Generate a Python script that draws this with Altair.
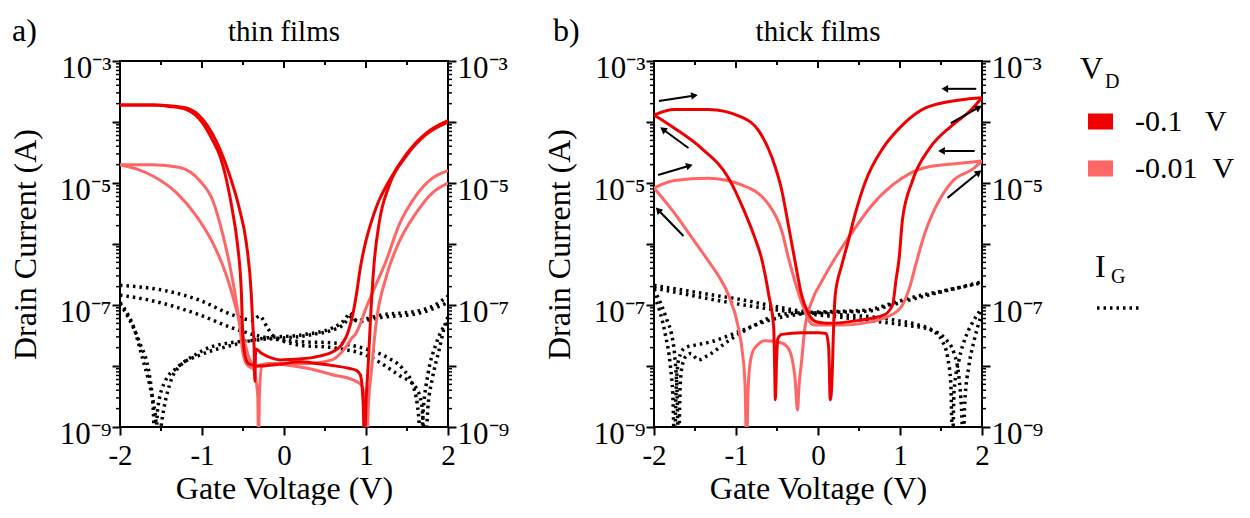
import math
import altair as alt
import pandas as pd

# ===================== values =====================
# a) thin films -- drain current, V_D = -0.1 V (two sweep branches)
THIN_DARK1_V = [-2.0, -1.6, -1.4, -1.19, -0.99, -0.87, -0.78, -0.70, -0.63, -0.57, -0.52, -0.50, -0.46, -0.42,
                -0.30, -0.05, 0.19, 0.40, 0.59, 0.80, 0.88, 0.93, 0.965, 0.98, 1.00, 1.03, 1.06, 1.10, 1.16,
                1.28, 1.49, 1.73, 2.0]
THIN_DARK1_I = [1.9e-4, 1.9e-4, 1.8e-4, 1.6e-4, 9.5e-5, 5.0e-5, 2.75e-5, 1.1e-5, 3.6e-6, 1.05e-6, 1.6e-7, 2.7e-8,
                1.26e-8, 1.07e-8, 1.0e-8, 1.07e-8, 1.17e-8, 1.1e-8, 1.02e-8, 9.1e-9, 8.5e-9, 7.2e-9, 2.5e-9,
                5.0e-10, 2.5e-9, 1.26e-8, 7.9e-8, 5.0e-7, 2.2e-6, 8.9e-6, 2.75e-5, 6.2e-5, 1.0e-4]
THIN_DARK2_V = [-2.0, -1.6, -1.4, -1.19, -0.99, -0.87, -0.78, -0.66, -0.54, -0.46, -0.40, -0.38, -0.365, -0.355,
                -0.345, -0.27, -0.15, -0.05, 0.19, 0.43, 0.59, 0.71, 0.78, 0.84, 0.88, 0.93, 0.99, 1.06, 1.14,
                1.28, 1.49, 1.73, 2.0]
THIN_DARK2_I = [1.9e-4, 1.9e-4, 1.85e-4, 1.7e-4, 1.1e-4, 6.3e-5, 3.55e-5, 1.3e-5, 3.6e-6, 1.05e-6, 1.6e-7, 4.6e-8,
                2.1e-8, 5.6e-9, 1.9e-8, 1.6e-8, 1.35e-8, 1.26e-8, 1.3e-8, 1.45e-8, 1.7e-8, 2.3e-8, 3.55e-8,
                7.1e-8, 1.4e-7, 4.0e-7, 1.0e-6, 2.2e-6, 4.5e-6, 1.07e-5, 2.95e-5, 6.5e-5, 1.05e-4]
# a) thin films -- drain current, V_D = -0.01 V
THIN_LIGHT1_V = [-2.0, -1.8, -1.6, -1.31, -1.07, -0.87, -0.70, -0.58, -0.50, -0.43, -0.36, -0.32, -0.31, -0.30,
                 -0.27, -0.20, 0.0, 0.30, 0.59, 0.88, 0.95, 0.99, 1.01, 1.03, 1.06, 1.12, 1.25, 1.40, 1.61,
                 1.81, 2.0]
THIN_LIGHT1_I = [2.0e-5, 1.7e-5, 1.3e-5, 6.9e-6, 2.9e-6, 1.05e-6, 3.0e-7, 8.3e-8, 3.1e-8, 1.4e-8, 7.9e-9, 3.2e-9,
                 5.0e-10, 3.2e-9, 1.0e-8, 1.1e-8, 1.05e-8, 9.1e-9, 7.2e-9, 5.6e-9, 4.7e-9, 2.5e-9, 5.0e-10,
                 2.5e-9, 6.9e-9, 4.6e-8, 3.0e-7, 1.05e-6, 3.2e-6, 6.9e-6, 1.0e-5]
THIN_LIGHT2_V = [-2.0, -1.6, -1.27, -1.03, -0.87, -0.75, -0.66, -0.60, -0.54, -0.50, -0.45, -0.38, -0.28, -0.10,
                 0.30, 0.59, 0.70, 0.76, 0.83, 0.87, 0.91, 1.00, 1.08, 1.25, 1.40, 1.61, 1.81, 2.0]
THIN_LIGHT2_I = [2.0e-5, 2.0e-5, 1.8e-5, 1.1e-5, 5.2e-6, 1.5e-6, 4.4e-7, 1.6e-7, 4.6e-8, 1.6e-8, 1.05e-8, 9.3e-9,
                 1.05e-8, 1.1e-8, 1.1e-8, 1.26e-8, 1.66e-8, 2.1e-8, 2.9e-8, 3.3e-8, 4.2e-8, 8.9e-8, 1.6e-7,
                 5.5e-7, 2.0e-6, 6.2e-6, 1.2e-5, 1.6e-5]
# a) thin films -- gate current |I_G| (four sweeps)
THIN_GATE1_V = [-2.0, -1.43, -1.03, -0.63, -0.38, -0.30, -0.20, -0.14, 0.19, 0.59, 1.00, 1.40, 1.61, 1.68, 1.72,
                1.76, 1.81, 1.89, 1.98, 2.0]
THIN_GATE1_I = [2.1e-7, 1.7e-7, 1.2e-7, 6.9e-8, 5.6e-8, 6.6e-8, 4.2e-8, 3.2e-8, 2.2e-8, 2.0e-8, 1.5e-8, 7.1e-9,
                4.4e-9, 2.3e-9, 5.0e-10, 2.5e-9, 6.3e-9, 1.8e-8, 5.5e-8, 6.3e-8]
THIN_GATE2_V = [-2.0, -1.64, -1.03, -0.63, -0.21, 0.20, 0.59, 1.00, 1.25, 1.45, 1.58, 1.64, 1.67, 1.70, 1.76, 1.85,
                1.93, 2.0]
THIN_GATE2_I = [1.45e-7, 1.2e-7, 6.9e-8, 4.2e-8, 2.9e-8, 2.5e-8, 2.4e-8, 1.9e-8, 1.4e-8, 8.9e-9, 4.5e-9, 1.6e-9,
                5.0e-10, 2.0e-9, 7.9e-9, 2.2e-8, 4.0e-8, 5.0e-8]
THIN_GATE3_V = [-2.0, -1.95, -1.84, -1.72, -1.64, -1.57, -1.53, -1.49, -1.39, -1.27, -1.03, -0.63, -0.21, 0.19,
                0.59, 0.76, 0.80, 0.88, 1.20, 1.61, 1.81, 2.0]
THIN_GATE3_I = [1.1e-7, 8.9e-8, 4.6e-8, 1.26e-8, 5.0e-9, 1.6e-9, 5.0e-10, 1.26e-9, 5.2e-9, 1.0e-8, 1.5e-8, 2.2e-8,
                2.9e-8, 3.2e-8, 4.2e-8, 6.2e-8, 7.4e-8, 5.6e-8, 6.9e-8, 7.9e-8, 9.5e-8, 1.4e-7]
THIN_GATE4_V = [-2.0, -1.90, -1.76, -1.64, -1.60, -1.57, -1.54, -1.45, -1.30, -1.11, -0.87, -0.30, 0.30, 0.70,
                0.82, 0.90, 1.20, 1.60, 2.0]
THIN_GATE4_I = [1.05e-7, 6.3e-8, 2.4e-8, 6.9e-9, 2.5e-9, 5.0e-10, 2.0e-9, 5.6e-9, 9.5e-9, 1.45e-8, 2.1e-8, 2.7e-8,
                3.2e-8, 4.5e-8, 6.3e-8, 5.4e-8, 6.3e-8, 7.1e-8, 1.1e-7]

# b) thick films -- drain current, V_D = -0.1 V
THICK_DARK1_V = [-2.0, -1.75, -1.34, -0.93, -0.72, -0.56, -0.44, -0.36, -0.28, -0.20, -0.13, -0.07, 0.0, 0.13,
                 0.50, 0.80, 0.91, 0.95, 0.99, 1.03, 1.15, 1.36, 1.64, 1.85, 2.0]
THICK_DARK1_I = [1.3e-4, 1.6e-4, 1.6e-4, 1.2e-4, 7.1e-5, 2.6e-5, 7.4e-6, 2.0e-6, 5.2e-7, 1.45e-7, 7.9e-8, 5.8e-8,
                 5.2e-8, 5.0e-8, 5.6e-8, 6.8e-8, 1.0e-7, 2.5e-7, 5.9e-7, 2.5e-6, 1.07e-5, 3.7e-5, 8.9e-5,
                 1.5e-4, 2.5e-4]
THICK_DARK2_V = [-2.0, -1.75, -1.42, -1.09, -0.90, -0.77, -0.69, -0.60, -0.54, -0.53, -0.52, -0.505, -0.49, -0.44,
                 -0.20, 0.0, 0.10, 0.13, 0.15, 0.17, 0.19, 0.21, 0.29, 0.36, 0.45, 0.58, 0.79, 1.03, 1.31, 1.73,
                 2.0]
THICK_DARK2_I = [1.3e-4, 7.9e-5, 3.7e-5, 1.2e-5, 3.5e-6, 1.26e-6, 5.9e-7, 1.45e-7, 4.2e-8, 1.2e-8, 2.8e-9, 1.26e-8,
                 2.8e-8, 3.3e-8, 3.5e-8, 3.5e-8, 3.4e-8, 2.0e-8, 2.8e-9, 5.6e-9, 4.2e-8, 1.45e-7, 4.5e-7, 1.0e-6,
                 3.0e-6, 1.07e-5, 3.7e-5, 8.9e-5, 1.7e-4, 2.3e-4, 2.5e-4]
# b) thick films -- drain current, V_D = -0.01 V
THICK_LIGHT1_V = [-2.0, -1.75, -1.34, -0.93, -0.60, -0.44, -0.36, -0.23, -0.16, -0.11, -0.04, 0.30, 0.54, 0.87,
                  1.03, 1.12, 1.19, 1.31, 1.40, 1.64, 1.89, 2.0]
THICK_LIGHT1_I = [8.3e-6, 1.1e-5, 1.2e-5, 9.3e-6, 4.4e-6, 1.6e-6, 5.9e-7, 1.45e-7, 7.9e-8, 5.5e-8, 4.7e-8, 4.7e-8,
                  5.0e-8, 6.6e-8, 1.0e-7, 2.0e-7, 4.5e-7, 1.6e-6, 3.2e-6, 1.07e-5, 1.7e-5, 2.3e-5]
THICK_LIGHT2_V = [-2.0, -1.75, -1.56, -1.35, -1.20, -1.09, -0.97, -0.92, -0.89, -0.87, -0.855, -0.84, -0.80, -0.74,
                  -0.65, -0.45, -0.38, -0.32, -0.28, -0.25, -0.23, -0.20, -0.16, -0.07, 0.05, 0.21, 0.45, 0.63,
                  0.91, 1.31, 1.73, 2.0]
THICK_LIGHT2_I = [8.3e-6, 3.2e-6, 1.4e-6, 5.6e-7, 2.8e-7, 1.45e-7, 4.2e-8, 1.6e-8, 5.0e-9, 4.0e-10, 3.2e-9, 7.9e-9,
                  1.66e-8, 2.2e-8, 2.6e-8, 2.4e-8, 2.1e-8, 1.4e-8, 6.3e-9, 1.9e-9, 5.0e-9, 1.2e-8, 4.2e-8, 1.2e-7,
                  2.5e-7, 5.9e-7, 1.8e-6, 3.9e-6, 9.3e-6, 1.8e-5, 2.1e-5, 2.3e-5]
# b) thick films -- gate current |I_G|
THICK_GATE1_V = [-2.0, -1.70, -1.34, -0.90, -0.53, -0.11, 0.29, 0.70, 0.95, 1.20, 1.40, 1.52, 1.58, 1.62, 1.64,
                 1.66, 1.72, 1.81, 1.90, 2.0]
THICK_GATE1_I = [2.1e-7, 1.8e-7, 1.5e-7, 1.2e-7, 9.5e-8, 7.6e-8, 6.9e-8, 6.3e-8, 5.6e-8, 4.8e-8, 3.8e-8, 2.5e-8,
                 1.4e-8, 5.0e-9, 5.0e-10, 4.0e-9, 1.26e-8, 3.2e-8, 5.6e-8, 8.9e-8]
THICK_GATE2_V = [-2.0, -1.50, -1.00, -0.50, 0.0, 0.40, 0.80, 1.10, 1.35, 1.55, 1.66, 1.72, 1.75, 1.77, 1.79, 1.84,
                 1.90, 1.96, 2.0]
THICK_GATE2_I = [1.9e-7, 1.4e-7, 1.05e-7, 8.3e-8, 6.9e-8, 6.0e-8, 5.2e-8, 4.6e-8, 4.0e-8, 2.8e-8, 1.6e-8, 6.3e-9,
                 2.0e-9, 5.0e-10, 2.5e-9, 1.0e-8, 2.5e-8, 5.0e-8, 7.6e-8]
THICK_GATE3_V = [-2.0, -1.91, -1.84, -1.79, -1.75, -1.72, -1.70, -1.68, -1.65, -1.60, -1.55, -1.46, -1.34, -1.09,
                 -0.77, -0.48, -0.07, 0.30, 0.60, 0.91, 1.12, 1.52, 2.0]
THICK_GATE3_I = [1.8e-7, 1.0e-7, 5.6e-8, 3.5e-8, 1.6e-8, 4.0e-9, 5.0e-10, 5.0e-9, 1.1e-8, 1.5e-8, 1.6e-8, 1.26e-8,
                 1.5e-8, 2.6e-8, 4.7e-8, 6.9e-8, 7.6e-8, 7.9e-8, 8.3e-8, 1.07e-7, 1.3e-7, 1.7e-7, 2.3e-7]
THICK_GATE4_V = [-2.0, -1.93, -1.86, -1.80, -1.77, -1.75, -1.73, -1.70, -1.62, -1.50, -1.30, -1.00, -0.60, -0.20,
                 0.20, 0.60, 0.90, 1.30, 1.70, 2.0]
THICK_GATE4_I = [1.4e-7, 7.9e-8, 3.2e-8, 1.0e-8, 3.2e-9, 5.0e-10, 4.0e-9, 1.26e-8, 2.0e-8, 2.2e-8, 2.5e-8, 3.5e-8,
                 5.6e-8, 7.1e-8, 7.6e-8, 7.9e-8, 1.0e-7, 1.4e-7, 1.9e-7, 2.4e-7]

# sweep-direction arrows in panel b (tail -> head, in data units)
ARROW_V0 = [-1.94, -1.58, -1.95, -1.64, 1.93, 1.62, 1.91, 1.58]
ARROW_I0 = [2.2e-4, 3.75e-5, 1.35e-5, 1.35e-6, 3.5e-4, 9.6e-5, 3.35e-5, 5.7e-6]
ARROW_V1 = [-1.52, -1.88, -1.58, -1.94, 1.56, 1.95, 1.52, 1.95]
ARROW_I1 = [2.7e-4, 7.4e-5, 1.9e-5, 3.5e-6, 3.5e-4, 1.7e-4, 3.35e-5, 1.46e-5]

# categories, ticks and labels
VD_NAMES = ["-0.1\u00a0\u00a0\u00a0V", "-0.01\u00a0\u00a0V"]
GATE_NAMES = ["gate"]
PANEL_TITLES = ["thin films", "thick films"]
PANEL_LETTERS = ["a)", "b)"]
LEGEND_TITLES = ["V", "I"]
LEGEND_SUBS = ["D", "G"]
Y_DECADE_EXP = [-9, -8, -7, -6, -5, -4, -3]
Y_DECADE_LABELS = ["10⁻⁹", "", "10⁻⁷", "", "10⁻⁵", "", "10⁻³"]
MINOR_MULT = [2, 3, 4, 5, 6, 7, 8, 9]
X_MAJOR = [-2, -1, 0, 1, 2]
X_MAJOR_LABELS = ["-2", "-1", "0", "1", "2"]
X_MINOR = [-1.5, -0.5, 0.5, 1.5]

# ===================== style / layout =====================
W, H = 328, 366
FONT = "Liberation Serif"
DARK, LIGHT = "#ee0000", "#ff6666"
XTICK_FS, YTICK_FS, AXTITLE_FS = 29, 31, 32

Y_DECADES = [10.0 ** e for e in Y_DECADE_EXP]
Y_MINORS = [m * 10.0 ** e for e in Y_DECADE_EXP[:-1] for m in MINOR_MULT]

y_expr = "".join(
    f"round(log(datum.value) / LN10) == {e} ? '{lab}' : " for e, lab in zip(Y_DECADE_EXP, Y_DECADE_LABELS)
) + "''"
x_expr = "".join(f"datum.value == {v} ? '{lab}' : " for v, lab in zip(X_MAJOR, X_MAJOR_LABELS)) + "''"

XS = alt.Scale(domain=[-2, 2], nice=False, zero=False)
YS = alt.Scale(type="log", domain=[1e-9, 1e-3], nice=False)

X_AXIS = alt.Axis(orient="bottom", values=X_MAJOR, labelExpr=x_expr, tickSize=8, tickWidth=2,
                  tickColor="black", domain=False, grid=False, labelFlush=False, labelFont=FONT,
                  labelFontSize=XTICK_FS, labelColor="black", labelPadding=6,
                  title="Gate Voltage (V)", titleFont=FONT, titleFontSize=AXTITLE_FS,
                  titleFontWeight="normal", titleColor="black", titlePadding=3)


def y_axis(orient, title):
    kw = dict(orient=orient, values=Y_DECADES, labelExpr=y_expr, tickSize=8, tickWidth=2, tickColor="black",
              domain=False, grid=False, labelFont=FONT, labelFontSize=YTICK_FS, labelColor="black",
              labelPadding=1, labelBaseline="middle", labelOffset=7)
    if title:
        kw.update(title=title, titleFont=FONT, titleFontSize=AXTITLE_FS, titleFontWeight="normal",
                  titleColor="black", titlePadding=17)
    else:
        kw.update(title=None)
    return alt.Axis(**kw)


COLOR_LEGEND = alt.Legend(title=LEGEND_TITLES[0], orient="none", legendX=960, legendY=-7,
                          titleFont=FONT, titleFontSize=32, titleFontWeight="normal", titleColor="black",
                          titlePadding=20, labelFont=FONT, labelFontSize=30, labelColor="black",
                          labelOffset=14, symbolType="stroke", symbolSize=625, symbolStrokeWidth=16,
                          symbolOffset=0, clipHeight=31, rowPadding=16)
DASH_LEGEND = alt.Legend(title=LEGEND_TITLES[1], orient="none", legendX=975, legendY=191,
                         titleFont=FONT, titleFontSize=32, titleFontWeight="normal", titleColor="black",
                         titlePadding=0, labelExpr="''", symbolType="stroke", symbolSize=1936,
                         symbolStrokeWidth=3.5, symbolStrokeColor="black")


def curve_frame(curves, key):
    rows = []
    for name, cat, vs, cs in curves:
        for k, (v, c) in enumerate(zip(vs, cs, strict=True)):
            rows.append({"curve": name, key: cat, "k": k, "V": v, "I": c})
    return pd.DataFrame(rows)


def drain_layer(df, yaxis):
    return alt.Chart(df).mark_line(clip=True, strokeWidth=3, interpolate="monotone").encode(
        x=alt.X("V:Q", scale=XS, axis=X_AXIS),
        y=alt.Y("I:Q", scale=YS, axis=yaxis),
        color=alt.Color("vd:N", scale=alt.Scale(domain=VD_NAMES, range=[DARK, LIGHT]), legend=COLOR_LEGEND),
        detail="curve:N",
        order="k:Q",
    )


def text_layer(txt, size, x, y, align):
    return alt.Chart(pd.DataFrame({"t": [txt]})).mark_text(
        font=FONT, fontSize=size, align=align, baseline="alphabetic", color="black").encode(
        text="t:N", x=alt.value(x), y=alt.value(y))


def panel(idx, dark, light, gate, arrows=False):
    dark_df = curve_frame(dark, "vd")
    light_df = curve_frame(light, "vd")
    gate_df = curve_frame(gate, "gate")

    light_l = drain_layer(light_df, None)
    dark_l = drain_layer(dark_df, y_axis("left", "Drain Current (A)"))
    gate_l = alt.Chart(gate_df).mark_line(clip=True, strokeWidth=3.5, color="black",
                                          interpolate="monotone").encode(
        x=alt.X("V:Q", scale=XS, axis=X_AXIS),
        y=alt.Y("I:Q", scale=YS, axis=None),
        strokeDash=alt.StrokeDash("gate:N", scale=alt.Scale(domain=GATE_NAMES, range=[[2.5, 4]]),
                                  legend=DASH_LEGEND),
        detail="curve:N",
        order="k:Q",
    )

    ymin = pd.DataFrame({"I": Y_MINORS})
    xmaj = pd.DataFrame({"V": X_MAJOR})
    xmin = pd.DataFrame({"V": X_MINOR})
    left_minor = alt.Chart(ymin).mark_rule(color="black", strokeWidth=1.5).encode(
        y=alt.Y("I:Q", scale=YS, axis=None), x=alt.value(-4), x2=alt.value(0))
    right_minor = alt.Chart(ymin).mark_rule(color="black", strokeWidth=1.5).encode(
        y=alt.Y("I:Q", scale=YS, axis=y_axis("right", None)), x=alt.value(W), x2=alt.value(W + 4))
    bottom_minor = alt.Chart(xmin).mark_rule(color="black", strokeWidth=2).encode(
        x=alt.X("V:Q", scale=XS, axis=X_AXIS), y=alt.value(H), y2=alt.value(H + 4))
    top_major = alt.Chart(xmaj).mark_rule(color="black", strokeWidth=2).encode(
        x=alt.X("V:Q", scale=XS, axis=X_AXIS), y=alt.value(0), y2=alt.value(7))
    top_minor = alt.Chart(xmin).mark_rule(color="black", strokeWidth=2).encode(
        x=alt.X("V:Q", scale=XS, axis=X_AXIS), y=alt.value(0), y2=alt.value(4))
    letter = text_layer(PANEL_LETTERS[idx], 32, -108 if idx == 0 else -101, -20, "left")
    title = text_layer(PANEL_TITLES[idx], 29, W / 2, -20, "center")

    layers = [gate_l, light_l, dark_l, left_minor, right_minor, bottom_minor, top_major, top_minor,
              letter, title]

    if arrows:
        adf = pd.DataFrame({"V0": ARROW_V0, "I0": ARROW_I0, "V1": ARROW_V1, "I1": ARROW_I1})
        adf["ang"] = [
            math.degrees(math.atan2((v1 - v0) / 4 * W, (math.log10(i1) - math.log10(i0)) / 6 * H)) % 360
            for v0, i0, v1, i1 in zip(ARROW_V0, ARROW_I0, ARROW_V1, ARROW_I1)
        ]
        shafts = alt.Chart(adf).mark_rule(color="black", strokeWidth=2).encode(
            x=alt.X("V0:Q", scale=XS, axis=X_AXIS), x2="V1:Q",
            y=alt.Y("I0:Q", scale=YS, axis=None), y2="I1:Q")
        heads = alt.Chart(adf).mark_point(shape="triangle", filled=True, size=60, color="black",
                                          opacity=1).encode(
            x=alt.X("V1:Q", scale=XS, axis=X_AXIS), y=alt.Y("I1:Q", scale=YS, axis=None),
            angle=alt.Angle("ang:Q", scale=None))
        sub_d = text_layer(LEGEND_SUBS[0], 20, 451, 27, "left")
        sub_g = text_layer(LEGEND_SUBS[1], 20, 457, 222, "left")
        layers += [shafts, heads, sub_d, sub_g]

    return alt.layer(*layers).resolve_axis(y="independent").properties(width=W, height=H)


pa = panel(
    0,
    [("d1", VD_NAMES[0], THIN_DARK1_V, THIN_DARK1_I), ("d2", VD_NAMES[0], THIN_DARK2_V, THIN_DARK2_I)],
    [("l1", VD_NAMES[1], THIN_LIGHT1_V, THIN_LIGHT1_I), ("l2", VD_NAMES[1], THIN_LIGHT2_V, THIN_LIGHT2_I)],
    [("g1", GATE_NAMES[0], THIN_GATE1_V, THIN_GATE1_I), ("g2", GATE_NAMES[0], THIN_GATE2_V, THIN_GATE2_I),
     ("g3", GATE_NAMES[0], THIN_GATE3_V, THIN_GATE3_I), ("g4", GATE_NAMES[0], THIN_GATE4_V, THIN_GATE4_I)],
)
pb = panel(
    1,
    [("d1", VD_NAMES[0], THICK_DARK1_V, THICK_DARK1_I), ("d2", VD_NAMES[0], THICK_DARK2_V, THICK_DARK2_I)],
    [("l1", VD_NAMES[1], THICK_LIGHT1_V, THICK_LIGHT1_I), ("l2", VD_NAMES[1], THICK_LIGHT2_V, THICK_LIGHT2_I)],
    [("g1", GATE_NAMES[0], THICK_GATE1_V, THICK_GATE1_I), ("g2", GATE_NAMES[0], THICK_GATE2_V, THICK_GATE2_I),
     ("g3", GATE_NAMES[0], THICK_GATE3_V, THICK_GATE3_I), ("g4", GATE_NAMES[0], THICK_GATE4_V, THICK_GATE4_I)],
    arrows=True,
)

chart = alt.hconcat(pa, pb, spacing=32).properties(
    padding={"left": 0, "top": 6, "right": 0, "bottom": 0}
).configure(font=FONT).configure_view(stroke="black", strokeWidth=2)

chart.save("out.html", embed_options={"renderer": "svg", "actions": False})
